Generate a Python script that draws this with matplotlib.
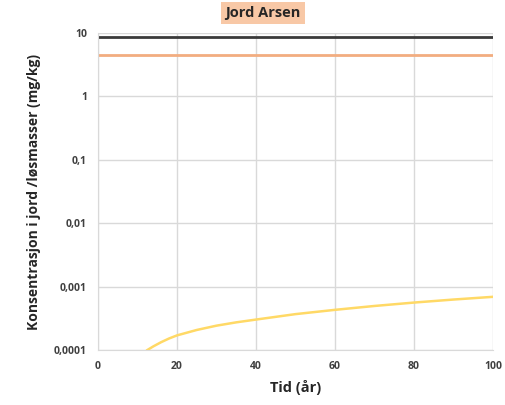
import numpy as np
import matplotlib.pyplot as plt
from matplotlib.ticker import FixedLocator, NullLocator

# values
tid = [0, 100]
grense_svart = [8.6, 8.6]
grense_oransje = [4.5, 4.5]

tid_gul = [12.5, 14, 16, 18, 20, 25, 30, 35, 40, 50, 60, 70, 80, 90, 100]
konk_gul = [1.0e-4, 1.14e-4, 1.33e-4, 1.52e-4, 1.7e-4, 2.07e-4, 2.42e-4, 2.73e-4,
            3.02e-4, 3.68e-4, 4.3e-4, 4.95e-4, 5.6e-4, 6.25e-4, 6.9e-4]

yticks = [1e-4, 1e-3, 1e-2, 1e-1, 1, 10]
ylabels = ["0,0001", "0,001", "0,01", "0,1", "1", "10"]
xticks = [0, 20, 40, 60, 80, 100]

plt.rcParams['font.family'] = ['Open Sans', 'DejaVu Sans']

fig = plt.figure(figsize=(5.06, 4.05), dpi=100)
ax = fig.add_axes([98/506, 1-350/405, 395/506, 317/405])

ax.plot(tid, grense_svart, color='#3a3a3a', lw=2.0)
ax.plot(tid, grense_oransje, color='#f2ad80', lw=2.0)
ax.plot(tid_gul, konk_gul, color='#ffd966', lw=1.8)

ax.set_yscale('log')
ax.set_ylim(1e-4, 10)
ax.set_xlim(0, 100)
ax.yaxis.set_major_locator(FixedLocator(yticks))
ax.yaxis.set_minor_locator(NullLocator())
ax.set_yticklabels(ylabels)
ax.set_xticks(xticks)

ax.grid(True, color='#d9d9d9', lw=1)
ax.set_axisbelow(True)
for s in ['top', 'right']:
    ax.spines[s].set_visible(False)
for s in ['left', 'bottom']:
    ax.spines[s].set_color('#d9d9d9')
ax.tick_params(length=0, labelsize=7.5, colors='#404040', pad=8)
for t in ax.get_xticklabels():
    t.set_fontweight('bold')
for t in ax.get_yticklabels():
    t.set_fontweight('bold')

ax.set_xlabel('Tid (år)', fontsize=10.5, fontweight='bold', color='#262626', labelpad=6)
ax.set_ylabel('Konsentrasjon i jord /løsmasser (mg/kg)', fontsize=10, fontweight='bold',
              color='#262626', labelpad=9)

fig.text(263/506, 1-13/405, 'Jord Arsen', ha='center', va='center', fontsize=10.5,
         fontweight='bold', color='#262626',
         bbox=dict(boxstyle='square,pad=0.3', fc='#f8c8a6', ec='none'))

fig.savefig('out.png', dpi=100)
